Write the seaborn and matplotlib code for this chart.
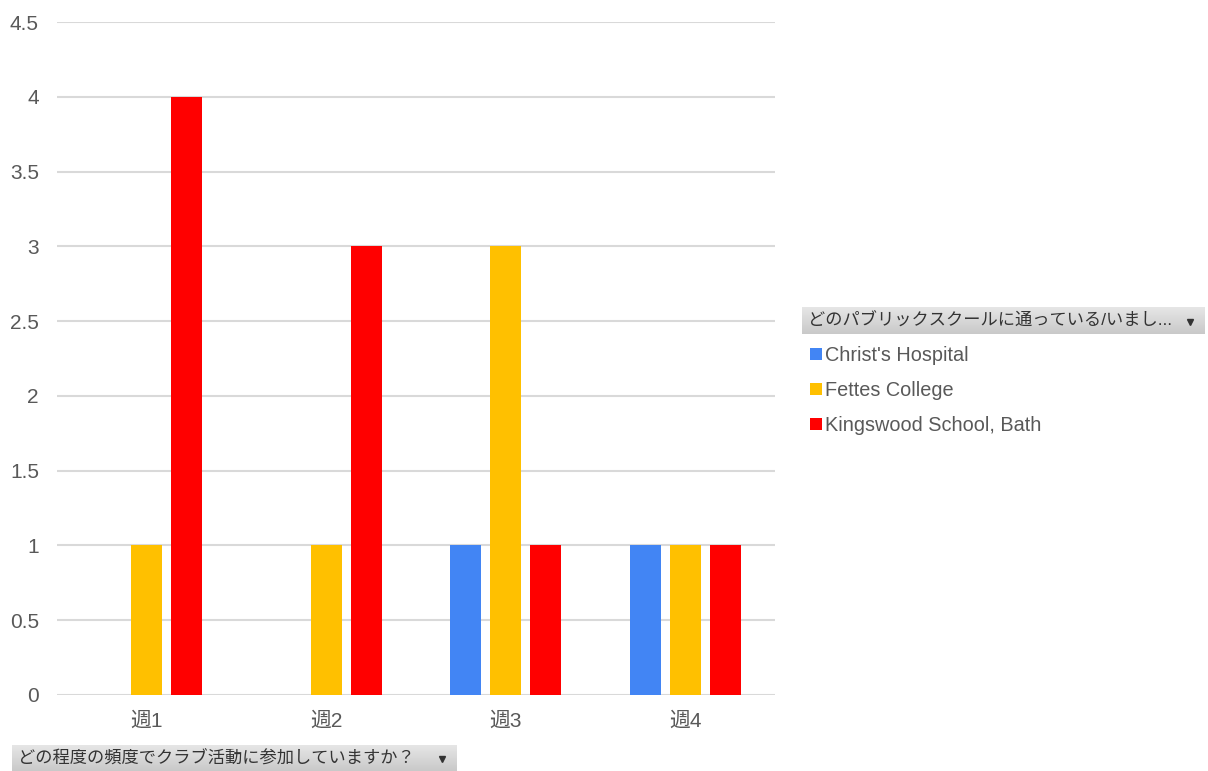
import numpy as np
import pandas as pd
import matplotlib
matplotlib.use("Agg")
import matplotlib.pyplot as plt
import seaborn as sns
from matplotlib.lines import Line2D
from matplotlib.colors import LinearSegmentedColormap

categories = ["週1", "週2", "週3", "週4"]
series_names = ["Christ's Hospital", "Fettes College", "Kingswood School, Bath"]
christs_hospital = [np.nan, np.nan, 1, 1]
fettes_college = [1, 1, 3, 1]
kingswood_bath = [4, 3, 1, 1]
colors = ["#4285F4", "#FFC000", "#FF0000"]
yticks = [0, 0.5, 1, 1.5, 2, 2.5, 3, 3.5, 4, 4.5]
legend_title = "どのパブリックスクールに通っている/いまし..."
axis_button = "どの程度の頻度でクラブ活動に参加していますか？"

rows = []
for name, vals in zip(series_names, [christs_hospital, fettes_college, kingswood_bath]):
    for c, v in zip(categories, vals):
        rows.append({"week": c, "school": name, "count": v})
df = pd.DataFrame(rows)

sns.set_theme(style="white")
plt.rcParams["font.family"] = ["Liberation Sans", "Noto Sans CJK JP", "DejaVu Sans"]
text_color = "#595959"

W, H = 1208, 771
fig = plt.figure(figsize=(W / 100, H / 100), dpi=100)
ax = fig.add_axes([57 / W, 1 - 695 / H, (775 - 57) / W, (695 - 22) / H])

sns.barplot(data=df, x="week", y="count", hue="school", hue_order=series_names,
            order=categories, palette=colors, width=0.667, gap=0.225,
            saturation=1, linewidth=0, ax=ax, legend=False, errorbar=None, zorder=3)

ax.set_ylim(0, 4.5)
ax.set_xlim(-0.5, 3.5)
ax.set_yticks(yticks)
ax.set_yticklabels([f"{t:g}" for t in yticks])
ax.yaxis.grid(True, color="#d9d9d9", linewidth=1.5, zorder=0)
ax.set_axisbelow(True)
for s in ax.spines.values():
    s.set_visible(False)
ax.tick_params(axis="both", length=0, labelsize=15, colors=text_color)
ax.tick_params(axis="y", pad=13)
ax.tick_params(axis="x", pad=12)
ax.set_xlabel("")
ax.set_ylabel("")

# Legend
handles = [Line2D([0], [0], marker="s", linestyle="none", markersize=8,
                  markerfacecolor=c, markeredgewidth=0) for c in colors]
leg = fig.legend(handles, series_names, loc="upper left",
                 bbox_to_anchor=(800 / W, 1 - 338 / H), frameon=False,
                 fontsize=14.3, labelcolor=text_color, handletextpad=0.05,
                 handlelength=0.8, labelspacing=0.8, borderaxespad=0)


def button(x0, y0, x1, y1, text, fs):
    bax = fig.add_axes([x0 / W, 1 - y1 / H, (x1 - x0) / W, (y1 - y0) / H])
    grad = np.linspace(0, 1, 50).reshape(-1, 1)
    cmap = LinearSegmentedColormap.from_list("g", ["#e6e6e6", "#c9c9c9"])
    bax.imshow(grad, aspect="auto", cmap=cmap, extent=(0, 1, 0, 1), origin="upper")
    bax.set_xlim(0, 1)
    bax.set_ylim(0, 1)
    bax.axis("off")
    bax.text(6 / (x1 - x0), 0.5, text, fontsize=fs, color="#333333",
             va="center", ha="left")
    bax.plot([1 - 15 / (x1 - x0)], [0.45], marker="v", markersize=5,
             color="#333333", linestyle="none")


button(802, 307, 1205, 334, legend_title, 12.4)
button(12, 745, 457, 771, axis_button, 12.4)

fig.savefig("out.png", dpi=100, facecolor="white")
